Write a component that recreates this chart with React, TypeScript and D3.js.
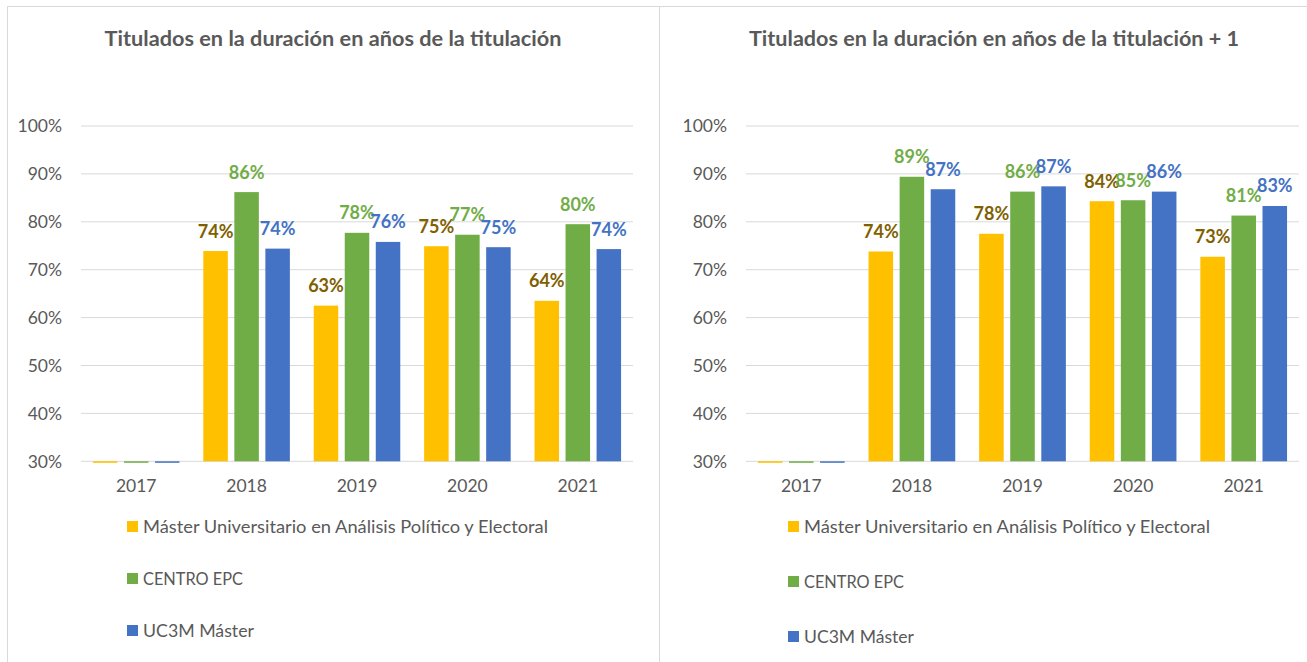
import React from 'react';
import * as d3 from 'd3';

const years = ['2017', '2018', '2019', '2020', '2021'];
const seriesNames = [
  'Máster Universitario en Análisis Político y Electoral',
  'CENTRO EPC',
  'UC3M Máster',
];
const barColors = ['#FFC000', '#70AD47', '#4472C4'];
const labelColors = ['#7F6000', '#70AD47', '#4472C4'];
const yTicks = [30, 40, 50, 60, 70, 80, 90, 100];

const titleLeft = 'Titulados en la duración en años de la titulación';
const titleRight = 'Titulados en la duración en años de la titulación + 1';

// Left chart values (%)
const masterLeft = [0, 73.9, 62.5, 74.9, 63.5];
const centroLeft = [0, 86.2, 77.7, 77.3, 79.5];
const uc3mLeft = [0, 74.4, 75.8, 74.7, 74.3];

// Right chart values (%)
const masterRight = [0, 73.8, 77.5, 84.3, 72.7];
const centroRight = [0, 89.4, 86.3, 84.5, 81.3];
const uc3mRight = [0, 86.8, 87.4, 86.3, 83.3];

const FONT = 'Lato, "Open Sans", sans-serif';
const GREY = '#595959';
const GRID = '#D9D9D9';

type PanelProps = {
  title: string;
  titleWidth: number;
  series: number[][];
  panelX0: number;
  panelX1: number;
  plotX0: number;
  plotX1: number;
  legendSquareX: number;
  legendBaselines: number[];
  legendWidths: number[];
};

function Panel(p: PanelProps) {
  const y = d3.scaleLinear().domain([30, 100]).range([461.3, 126]);
  const x = d3
    .scaleBand<string>()
    .domain(years)
    .range([p.plotX0, p.plotX1])
    .paddingInner(0.216)
    .paddingOuter(0.108);
  const xs = d3
    .scaleBand<number>()
    .domain([0, 1, 2])
    .range([0, x.bandwidth()])
    .paddingInner(0.21)
    .paddingOuter(0);
  const base = y(30);
  const cx = (p.panelX0 + p.panelX1) / 2;

  return (
    <g>
      <text
        x={cx}
        y={46}
        textAnchor="middle"
        fontFamily={FONT}
        fontWeight="bold"
        fontSize={20}
        fill={GREY}
        textLength={p.titleWidth}
        lengthAdjust="spacingAndGlyphs"
      >
        {p.title}
      </text>
      {yTicks.map((t) => (
        <g key={t}>
          <line x1={p.plotX0} x2={p.plotX1} y1={y(t)} y2={y(t)} stroke={GRID} strokeWidth={1} />
          <text
            x={p.plotX0 - 19}
            y={y(t)}
            dy="0.36em"
            textAnchor="end"
            fontFamily={FONT}
            fontSize={17.5}
            fill={GREY}
          >
            {t}%
          </text>
        </g>
      ))}
      {years.map((yr, i) => (
        <g key={yr}>
          {p.series.map((vals, s) => {
            const v = vals[i];
            const bx = (x(yr) as number) + (xs(s) as number);
            const below = v <= 30;
            const top = below ? base : y(v);
            const h = below ? 1.5 : base - top;
            return (
              <g key={s}>
                <rect x={bx} y={top} width={xs.bandwidth()} height={h} fill={barColors[s]} />
                {!below && (
                  <text
                    x={bx + xs.bandwidth() / 2}
                    y={top - 13.5}
                    textAnchor="middle"
                    fontFamily={FONT}
                    fontWeight="bold"
                    fontSize={18}
                    fill={labelColors[s]}
                  >
                    {Math.round(v)}%
                  </text>
                )}
              </g>
            );
          })}
          <text
            x={(x(yr) as number) + x.bandwidth() / 2}
            y={492}
            textAnchor="middle"
            fontFamily={FONT}
            fontSize={17.5}
            fill={GREY}
          >
            {yr}
          </text>
        </g>
      ))}
      {seriesNames.map((n, s) => (
        <g key={n}>
          <rect
            x={p.legendSquareX}
            y={p.legendBaselines[s] - 12}
            width={11}
            height={11}
            fill={barColors[s]}
          />
          <text
            x={p.legendSquareX + 16}
            y={p.legendBaselines[s]}
            fontFamily={FONT}
            fontSize={17.5}
            fill={GREY}
            textLength={p.legendWidths[s]}
            lengthAdjust="spacingAndGlyphs"
          >
            {n}
          </text>
        </g>
      ))}
    </g>
  );
}

export default function App() {
  return (
    <svg
      width={1307}
      height={662}
      style={{ position: 'absolute', left: 0, top: 0, background: '#fff' }}
    >
      <rect x={0} y={0} width={1307} height={662} fill="#fff" />
      <line x1={7} x2={1307} y1={6.5} y2={6.5} stroke={GRID} />
      <line x1={7.5} x2={7.5} y1={6} y2={662} stroke={GRID} />
      <line x1={659.5} x2={659.5} y1={6} y2={662} stroke={GRID} />
      <Panel
        title={titleLeft}
        titleWidth={457}
        series={[masterLeft, centroLeft, uc3mLeft]}
        panelX0={7}
        panelX1={659}
        plotX0={81}
        plotX1={633}
        legendSquareX={127}
        legendBaselines={[533, 585, 637]}
        legendWidths={[405, 100, 111]}
      />
      <Panel
        title={titleRight}
        titleWidth={490}
        series={[masterRight, centroRight, uc3mRight]}
        panelX0={659}
        panelX1={1329}
        plotX0={746}
        plotX1={1299}
        legendSquareX={788}
        legendBaselines={[533, 588, 643]}
        legendWidths={[406, 100, 110]}
      />
    </svg>
  );
}
